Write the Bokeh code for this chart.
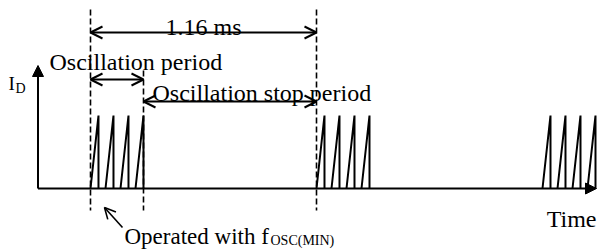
from bokeh.plotting import figure
from bokeh.models import Range1d, Arrow, OpenHead, NormalHead, Label
from bokeh.embed import file_html
from bokeh.resources import INLINE

# ---------------- data (timing diagram values) ----------------
burst_period_ms = 1.16          # time between burst starts
osc_period_ms = 0.272           # length of one oscillation burst
tooth_starts_ms = [0.000, 0.077, 0.154, 0.231,
                   1.160, 1.237, 1.314, 1.391,
                   2.320, 2.397, 2.474, 2.551]
tooth_rise_ms = 0.041
peak_current = 1.0
label_period = "%.2f ms" % burst_period_ms
label_osc = "Oscillation period"
label_stop = "Oscillation stop period"
label_op = "Operated with f"
label_op_sub = "OSC(MIN)"
label_y = "I"
label_y_sub = "D"
label_x = "Time"

# ---------------- layout (canvas pixel geometry) ----------------
W, H = 598, 250
PX_PER_MS = 194.83
PX_PER_UNIT = 73.0
T0_PX, I0_PX = 90.0, 188.0     # canvas position of t=0, I=0


def tx(px):
    return (px - T0_PX) / PX_PER_MS


def iy(py):
    return (I0_PX - py) / PX_PER_UNIT


FONT = "Liberation Serif"

p = figure(width=W, height=H, output_backend="svg", toolbar_location=None,
           x_range=Range1d(tx(0), tx(W)), y_range=Range1d(iy(H), iy(0)),
           x_axis_location=None, y_axis_location=None, min_border=0)
p.grid.visible = False
p.outline_line_color = None
p.background_fill_color = "white"
p.border_fill_color = "white"

# sawtooth drain current
xs = [[s, s + tooth_rise_ms, s + tooth_rise_ms] for s in tooth_starts_ms]
ys = [[0.0, peak_current, 0.0] for _ in tooth_starts_ms]
p.multi_line(xs, ys, line_color="black", line_width=2, line_join="miter")

# axes with arrows
t_axis = tx(37.5)
p.add_layout(Arrow(end=NormalHead(size=11, fill_color="black", line_color="black"),
                   x_start=t_axis, y_start=0.0, x_end=tx(596), y_end=0.0,
                   line_width=2, line_color="black"))
p.add_layout(Arrow(end=NormalHead(size=11, fill_color="black", line_color="black"),
                   x_start=t_axis, y_start=0.0, x_end=t_axis, y_end=iy(65),
                   line_width=2, line_color="black"))

# dashed marker lines
t_start = tooth_starts_ms[0]
t_osc_end = t_start + osc_period_ms
t_next = t_start + burst_period_ms
p.segment(x0=[t_start, t_osc_end, t_next], y0=[iy(9), iy(70), iy(9)],
          x1=[t_start, t_osc_end, t_next], y1=[iy(210)] * 3,
          line_color="black", line_width=1.6, line_dash="6 3")

# dimension arrows


def dim_arrow(x0, x1, y):
    p.add_layout(Arrow(start=OpenHead(size=12, line_width=2, line_color="black"),
                       end=OpenHead(size=12, line_width=2, line_color="black"),
                       x_start=x0, y_start=y, x_end=x1, y_end=y,
                       line_width=2, line_color="black"))


dim_arrow(t_start, t_next, iy(32))
dim_arrow(t_start, t_osc_end, iy(79))
dim_arrow(t_osc_end, t_next, iy(101))

# pointer arrow to first tooth
p.add_layout(Arrow(end=OpenHead(size=11, line_width=1.6, line_color="black"),
                   x_start=tx(122), y_start=iy(227), x_end=tx(104), y_end=iy(207),
                   line_width=1.6, line_color="black"))


def lab(x, y, text, size, align="left"):
    p.add_layout(Label(x=x, y=y, text=text, text_font=FONT,
                       text_font_size="%dpx" % size, text_color="black",
                       text_align=align, text_baseline="alphabetic"))


lab((t_start + t_next) / 2, iy(26), label_period, 24, "center")
lab(tx(49), iy(61), label_osc, 24)
lab(tx(152), iy(92), label_stop, 24)
lab(tx(8), iy(83), label_y, 19)
lab(tx(15), iy(88), label_y_sub, 14)
lab(tx(596), iy(218), label_x, 24, "right")
lab(tx(124), iy(236), label_op, 23)
lab(tx(270), iy(240), label_op_sub, 14)

open("out.html", "w").write(file_html(p, INLINE))
